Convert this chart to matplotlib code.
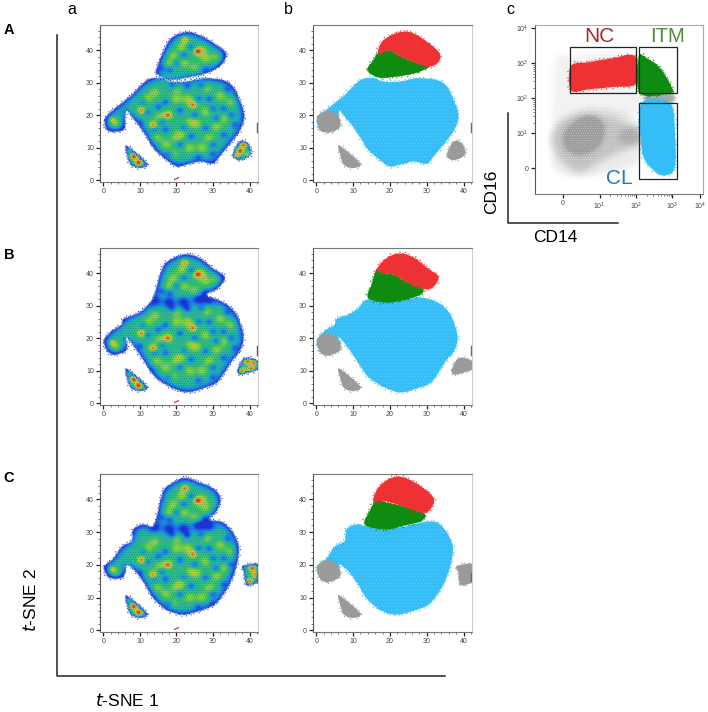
import numpy as np
import matplotlib
matplotlib.use("Agg")
import matplotlib.pyplot as plt
from matplotlib.patches import PathPatch, Rectangle
from matplotlib.path import Path
from matplotlib.lines import Line2D
from matplotlib.colors import LinearSegmentedColormap

plt.rcParams['font.family'] = ['Liberation Sans', 'DejaVu Sans']
plt.rcParams['hatch.linewidth'] = 0.4
plt.rcParams['mathtext.default'] = 'regular'

W, H = 708, 712

# ---------- t-SNE outlines (t-SNE 1, t-SNE 2) ----------
main_A = [(13.2,31.3),(15.9,31.3),(18.2,30.3),(22.7,30.3),(27.3,31.3),(32.7,30.8),(35.5,28.8),(37.3,24.7),
          (38.6,20.1),(37.7,16),(35.5,12.4),(31.8,7.3),(30,5.1),(26.4,5.8),(22.7,4.8),(20,4.3),(17.3,6.3),
          (14.1,9.4),(11.8,13.5),(10,16.5),(7.7,19.6),(6.2,21.6),(5.9,18.6),(5.5,15.5),(1.8,15),(0.5,16.5),
          (0.5,19.1),(2.7,21.6),(5,23.7),(7.3,25.7),(9.1,27.8),(11.4,30.3)]
top_A = [(14.5,33.9),(16.8,40.5),(19.1,44.1),(23.2,45.6),(27.3,44.1),(30.9,41.6),(33.6,39),(32.3,35.5),
         (28.2,32.9),(23.6,31.8),(18.2,30.8),(15,32.4)]
main_B = [(0.2,19.5),(2.7,22.6),(5,24.1),(5.5,25.9),(8.6,27.2),(11.4,29.2),(13.6,32.3),(14.5,35.4),(16.4,42.1),
          (19.1,44.6),(22.7,45.8),(26.4,44.6),(30,41.5),(33.2,38.8),(31.4,35.4),(28.2,33.3),(32.3,31.3),(35.5,28.7),
          (37.3,25.1),(38.4,20),(37.3,15.9),(35,12.8),(31.4,6.7),(27.3,4.6),(22.7,3.4),(18.2,5.1),(14.1,8.2),
          (11.8,11.8),(10,14.9),(7.7,18.5),(5.9,20.5),(6.5,17.9),(5.9,15.9),(2.7,14.9),(0.9,16.4)]
main_C = [(0.2,19.6),(2.7,21.8),(5,25.5),(7.7,27.2),(8.2,30.8),(10.9,32.3),(13.6,31.8),(15,36.4),(16.4,42.6),
          (19.1,45.1),(22.3,46.6),(26.4,45.1),(30.5,43.1),(32.1,40),(31,36.4),(29.1,33.9),(32.7,32.9),(35.5,29.8),
          (37.1,25.2),(36.4,19.6),(34.5,14),(31,8.4),(27.3,6.3),(21.8,4.8),(17.3,6.3),(13.6,9.9),(11.4,14),
          (9.1,17.6),(6.4,20.1),(5.9,17.6),(5,16),(1.8,16),(0.5,17.6)]
sky_B = [(0.2,19.5),(2.7,22.6),(5,24.1),(5.5,25.9),(8.6,27.2),(11.4,29.2),(13.6,31.8),(18,31.5),(23,31.5),(28,32.5),
         (32.3,31.3),(35.5,28.7),(37.3,25.1),(38.4,20),(37.3,15.9),(35,12.8),(31.4,6.7),(27.3,4.6),(22.7,3.4),
         (18.2,5.1),(14.1,8.2),(11.8,11.8),(10,14.9),(7.7,18.5),(5.9,20.5),(6.5,17.9),(5.9,15.9),(2.7,14.9),(0.9,16.4)]
sky_C = [(0.2,19.6),(2.7,21.8),(5,25.5),(7.7,27.2),(8.2,30.8),(10.9,32.3),(13.6,31.8),(18,31.5),(23,31.5),(29.1,33),
         (32.7,32.9),(35.5,29.8),(37.1,25.2),(36.4,19.6),(34.5,14),(31,8.4),(27.3,6.3),(21.8,4.8),(17.3,6.3),(13.6,9.9),
         (11.4,14),(9.1,17.6),(6.4,20.1),(5.9,17.6),(5,16),(1.8,16),(0.5,17.6)]
small_blob = [(6,10.6),(8.5,8.8),(12,5),(10,3.8),(7.5,4.8),(6.6,7.5)]
right_A = [(35.5,7.9),(37.3,11.9),(39.5,11.4),(40.5,8.4),(39.1,6.8),(36.8,6.3)]
right_B = [(36.8,10.3),(38.6,13.8),(41.8,13.3),(43,10.8),(39.1,9.2),(37.3,8.9)]
right_C = [(38.2,19.6),(43,20.1),(43,15.5),(40.9,14),(39.1,14),(38.6,17.6)]
gray_lobe = [(0.3,19.6),(3.2,21.4),(5.9,19.6),(6.4,16.5),(3.2,14.7),(0.9,16)]

red_A = [(16.8,38.9),(18.2,43),(23.2,45.6),(27.3,44.6),(33.2,39.5),(33.2,36.4),(30.5,34.9),(26.4,36.4),(21.4,39),(20,40)]
green_A = [(16.8,39),(20,40),(21.4,39),(26.4,36.4),(30.5,34.9),(26.8,32.9),(21.4,31.8),(16.8,31.6),(13.9,33.9),(15.5,36.9)]
red_B = [(16.4,41),(19.1,44.6),(22.7,46),(26.4,44.8),(30,41.7),(33.2,38.8),(31.6,35.6),(29,35.2),(25,37),(21,39.5),(18.5,40)]
green_B = [(16.4,41),(18.5,40),(21,39.5),(25,37),(29,35.2),(28,33.2),(23,31.5),(18,31),(14,32.5),(15,36.5)]
red_C = [(15.5,39.5),(17.3,44.1),(21.8,46.9),(26.8,45.1),(31.8,40.5),(30.9,36.9),(28.6,35.9),(23.2,38),(18.6,39.5)]
green_C = [(16.4,39.8),(19.1,39),(23.2,38),(29.1,35.9),(28.6,33.4),(23.2,31.8),(18.6,30.8),(13.2,32.3),(14.5,36.4)]

# density landmarks: warm patches, peaks and low-density bands
warm_x = [22.3,25.9,27,19,18,28,31,22,25,21.5,24.5,23,17.7,15.5,13.6,10.5,12,14.5,17,20,21.4,25.5,23.6,27,29,31,33,28.2,32,35,20,28,24,19,14,20,2.5,3.5]
warm_y = [43.3,39.5,40,38.5,36,37.5,38,36,34.5,41,23.7,25,20.1,19.5,17,21.6,25,13,11,13,14.5,17.3,9.9,10,13,16.5,19,28.3,26,24,25,21,18,8,27,28,18,17]
hot_x = [25.7,24.5,17.7,13.6,10.5,2.3,22.3]
hot_y = [39.7,23,20,16.8,21.4,18.8,43.5]
low_x = [18.2,20,22,24,28,16,12,14,10,17,21,24,30,31,33,26,21,17,28,35,15,27,23,30,34,19,13,18,26,30,22,16,33,25,36,29,11]
low_y = [33.9,36,38.5,41,34,34.5,21,15.5,17.5,15.5,11,13.5,22,19,14,25,21.5,24,16,20,22.5,29,29,8,28,29,10,8,7,11,16,18,22,20,17,25,24]
neck_x = [14,18,22,26,29]
neck_y = [31.5,31,31,32,32]
small_hot_x = [8.3, 9.6]
small_hot_y = [7.3, 5.4]
side_hot = {'A': ([36,38.5,40,37.5],[7.5,11,7.6,9]), 'B': ([38,39.5,41.5,40.5],[9.8,13,12.5,10.5]), 'C': ([41.8,40,40.8],[17,14.8,19])}

rows = {
    'A': dict(top=25, bottom=182, blobs=[main_A, top_A], right=right_A, red=red_A, green=green_A, sky=main_A, neck=False),
    'B': dict(top=248, bottom=405, blobs=[main_B], right=right_B, red=red_B, green=green_B, sky=sky_B, neck=True),
    'C': dict(top=474, bottom=632, blobs=[main_C], right=right_C, red=red_C, green=green_C, sky=sky_C, neck=True),
}

# ---------- flow panel outlines (decades of CD14, CD16) ----------
flow_x_ticks = [0, 1, 2, 3, 3.75]
flow_x_labels = ['0', r'$10^{1}$', r'$10^{2}$', r'$10^{3}$', r'$10^{4}$']
flow_y_ticks = [0, 1, 2, 3, 4]
flow_y_labels = ['0', r'$10^{1}$', r'$10^{2}$', r'$10^{3}$', r'$10^{4}$']
haze_high = [(-.27,2.1),(-.2,3.15),(.2,3.2),(2.1,3.2),(2.1,1.6),(1.1,1.5),(.27,1.5),(-.27,1.05)]
haze_low = [(-.27,1.03),(.27,1.51),(1.1,1.51),(2.03,1.14),(2.11,.71),(1.56,.46),(.93,.14),(.47,-.14),(0,.14),(-.27,.6)]
haze_far = [(-.3,1.1),(.3,1.6),(1.2,1.7),(2.1,1.3),(2.15,.3),(1.7,.0),(.9,-.2),(.4,-.25),(-.2,-.1),(-.33,.5)]
dense_gray = [(.19,1.14),(.66,1.46),(1.07,1.23),(.96,.71),(.55,.43),(.19,.51),(.05,.8)]
neck_gray = [(2.3,2.14),(3.0,2.14),(3.0,1.86),(2.3,1.86)]
bridge_gray = [(1.6,1.05),(2.15,1.2),(2.15,.7),(1.6,.75)]
pop_red = [(.22,2.92),(.74,3.03),(1.37,3.14),(1.97,3.2),(2,2.42),(1.37,2.32),(.74,2.26),(.22,2.22)]
pop_green = [(2.08,3.17),(2.3,3.14),(2.66,2.86),(2.99,2.29),(2.93,2.14),(2.11,2.14)]
pop_blue = [(2.16,1.86),(2.93,1.86),(3.07,1),(3.07,.03),(2.85,-.2),(2.58,-.14),(2.25,.23),(2.14,.8)]
gate_names = ['NC', 'ITM', 'CL']
gate_x = [(0.19,2.0),(2.09,3.12),(2.09,3.12)]
gate_y = [(2.14,3.46),(2.14,3.46),(-0.31,1.86)]

RED, GREEN, SKY, GRAY = '#ee3233', '#0f8c10', '#34bdf6', '#9a9a9a'
density_cmap = LinearSegmentedColormap.from_list('flow', ['#1a35d0','#1a7fe6','#20b4b0','#36c46a','#8fd840','#ecc030','#e06028','#c8201c'])

fig = plt.figure(figsize=(W/100, H/100), dpi=100)

def smooth_path(pts):
    """Closed Catmull-Rom outline through the read points."""
    p = np.asarray(pts, float)
    n = len(p)
    verts, codes = [p[0]], [Path.MOVETO]
    for i in range(n):
        p0, p1, p2, p3 = p[(i-1) % n], p[i], p[(i+1) % n], p[(i+2) % n]
        verts += [p1+(p2-p0)/6, p2-(p3-p1)/6, p2]
        codes += [Path.CURVE4]*3
    return Path(np.array(verts), codes)

def blob(ax, pts, color, z, fringe=True):
    path = smooth_path(pts)
    ax.add_patch(PathPatch(path, fc=color, ec='none', zorder=z))
    if fringe:
        e = PathPatch(path, fc='none', ec=color, lw=1.1, ls=(0, (0.6, 1.3)), zorder=z)
        e.set_sketch_params(1.6, 6, 3)
        ax.add_patch(e)
    return path

def px_axes(l, t, r, b):
    return fig.add_axes([l/W, 1-b/H, (r-l)/W, (b-t)/H])

def style(ax, xmajor, ymajor, xminor, yminor):
    ax.set_xticks(xmajor); ax.set_yticks(ymajor)
    ax.set_xticks(xminor, minor=True); ax.set_yticks(yminor, minor=True)
    ax.tick_params(which='major', length=3, width=0.9, labelsize=5, labelcolor='#444444', pad=1.5, color='#222222')
    ax.tick_params(which='minor', length=1.5, width=0.5, color='#444444')
    ax.spines['top'].set_color('#777777'); ax.spines['right'].set_color('#cccccc')
    ax.spines['bottom'].set_color('#777777'); ax.spines['left'].set_color('#555555')
    for s in ax.spines.values():
        s.set_linewidth(0.8)

XLIM, YLIM = (-0.9, 42.3), (-0.5, 47.7)
def tsne_axes(l, t, r, b):
    ax = px_axes(l, t, r, b)
    ax.set_xlim(*XLIM); ax.set_ylim(*YLIM)
    style(ax, [0,10,20,30,40], [0,10,20,30,40], np.arange(0,43,2), np.arange(0,47,2))
    ax.set_yticklabels(['0','10','20','30','40'])
    return ax

def blur(a, sigma_cells):
    r = int(3*sigma_cells)+1
    k = np.exp(-0.5*(np.arange(-r, r+1)/sigma_cells)**2); k /= k.sum()
    a = np.apply_along_axis(lambda v: np.convolve(v, k, mode='same'), 0, a)
    return np.apply_along_axis(lambda v: np.convolve(v, k, mode='same'), 1, a)

def mask_of(polys, X, Y):
    m = np.zeros(X.shape)
    q = np.column_stack([X.ravel(), Y.ravel()])
    for pts in polys:
        poly = smooth_path(pts).to_polygons(closed_only=True)[0]
        m = np.maximum(m, Path(poly).contains_points(q).reshape(X.shape).astype(float))
    return m

def bumps(X, Y, xs, ys, sigma):
    out = np.zeros(X.shape)
    for a, b in zip(xs, ys):
        out += np.exp(-((X-a)**2+(Y-b)**2)/(2*sigma**2))
    return out

gx = np.arange(XLIM[0], XLIM[1]+0.15, 0.15)
gy = np.arange(YLIM[0], YLIM[1]+0.15, 0.15)
X, Y = np.meshgrid(gx, gy)

def density_panel(ax, r, name):
    polys = r['blobs'] + [small_blob, r['right']]
    m = mask_of(polys, X, Y)
    big = mask_of(r['blobs'], X, Y)
    small = mask_of([small_blob, r['right']], X, Y)
    edge = np.clip(blur(big, 9)*2-1, 0, 1)**0.9
    edge_small = np.clip(blur(small, 3.5)*2-1, 0, 1)**0.7
    edge = np.maximum(edge, edge_small)
    sx, sy = side_hot[name]
    v = 0.37
    v = v + 0.20*bumps(X, Y, warm_x, warm_y, 1.1) + 0.30*bumps(X, Y, hot_x, hot_y, 0.6)
    v = v - 0.26*bumps(X, Y, low_x, low_y, 0.8)
    v = v + 0.55*bumps(X, Y, sx, sy, 0.7)
    v = v + 0.6*bumps(X, Y, small_hot_x, small_hot_y, 0.7)
    if r['neck']:
        v = v - 0.40*bumps(X, Y, neck_x, neck_y, 1.3)
    v = np.clip(v, 0, 1)*edge
    rgba = density_cmap(v)
    rgba[..., 3] = blur(m, 1.0)
    ax.imshow(rgba, extent=[gx[0], gx[-1], gy[0], gy[-1]], origin='lower', aspect='auto',
              interpolation='bilinear', zorder=2)
    ax.set_xlim(*XLIM); ax.set_ylim(*YLIM)
    for pts in polys:
        path = smooth_path(pts)
        e = PathPatch(path, fc='none', ec='#1a35d0', lw=1.0, ls=(0, (0.6, 1.4)), zorder=3)
        e.set_sketch_params(1.5, 6, 3)
        ax.add_patch(e)
        g = PathPatch(path, fc='none', ec='#1a35d0', lw=0, hatch='.......', alpha=0.38, zorder=3.1)
        ax.add_patch(g)

for name, r in rows.items():
    ax = tsne_axes(100, r['top'], 258, r['bottom'])
    density_panel(ax, r, name)
    ax.plot([19.5, 20.5], [0.3, 0.8], color='#c0504d', lw=1, zorder=5)
    ax.plot([42, 42], [15, 17.5], color='#c03030', lw=1, zorder=5)

    ax = tsne_axes(313, r['top'], 472, r['bottom'])
    p = blob(ax, r['sky'], SKY, 2)
    ax.add_patch(PathPatch(p, fc='none', ec='white', lw=0, hatch='.....', alpha=0.18, zorder=2.1))
    blob(ax, gray_lobe, GRAY, 3)
    blob(ax, small_blob, GRAY, 3)
    blob(ax, r['right'], GRAY, 3)
    blob(ax, r['green'], GREEN, 4)
    blob(ax, r['red'], RED, 5)
    ax.plot([42, 42], [15, 17.5], color=RED, lw=1, zorder=5)

# panel c
ax = px_axes(535, 25, 703, 194)
FX, FY = (-0.77, 3.84), (-0.74, 4.09)
minor_pos = np.log10([20,30,40,50,60,70,80,90,200,300,400,500,600,700,800,900])
style(ax, flow_x_ticks, flow_y_ticks, minor_pos, minor_pos)
ax.set_xticklabels(flow_x_labels); ax.set_yticklabels(flow_y_labels)
ax.spines['top'].set_color('#aaaaaa')
ax.spines['right'].set_color('#aaaaaa')
hx = np.arange(FX[0], FX[1]+0.02, 0.02)
hy = np.arange(FY[0], FY[1]+0.02, 0.02)
HX, HY = np.meshgrid(hx, hy)
shade = (0.13*blur(mask_of([haze_high], HX, HY), 4)
         + 0.20*blur(mask_of([haze_far], HX, HY), 4)
         + 0.42*blur(mask_of([haze_low], HX, HY), 5)
         + 0.25*blur(mask_of([bridge_gray], HX, HY), 4)
         + 0.85*blur(mask_of([dense_gray], HX, HY), 5)
         + 0.85*blur(mask_of([neck_gray], HX, HY), 2))
rgba = np.zeros(HX.shape+(4,))
rgba[..., :3] = 0.60
rgba[..., 3] = np.clip(shade, 0, 0.98)
ax.imshow(rgba, extent=[hx[0], hx[-1], hy[0], hy[-1]], origin='lower', aspect='auto', interpolation='bilinear', zorder=1)
ax.add_patch(PathPatch(smooth_path(haze_far), fc='none', ec='white', lw=0, hatch='.......', alpha=0.4, zorder=1.2))
ax.add_patch(PathPatch(smooth_path(haze_high), fc='none', ec='white', lw=0, hatch='.....', alpha=0.5, zorder=1.2))
ax.set_xlim(*FX); ax.set_ylim(*FY)
blob(ax, pop_red, RED, 2)
blob(ax, pop_green, GREEN, 2)
blob(ax, pop_blue, SKY, 2)
for n, gxx, gyy in zip(gate_names, gate_x, gate_y):
    ax.add_patch(Rectangle((gxx[0], gyy[0]), gxx[1]-gxx[0], gyy[1]-gyy[0], fc='none', ec='#222222', lw=0.9, zorder=3))

def txt(x, y, s, **kw):
    kw.setdefault('ha', 'center'); kw.setdefault('va', 'center')
    fig.text(x/W, 1-y/H, s, **kw)

def line(xs, ys, **kw):
    fig.add_artist(Line2D([x/W for x in xs], [1-y/H for y in ys], color='#222222', lw=1.1, **kw))

txt(599, 36, 'NC', fontsize=15, color='#a8252a')
txt(668, 36, 'ITM', fontsize=14.5, color='#4f8a3a')
txt(619, 179, 'CL', fontsize=15, color='#1f78c0')

for x, s in [(72, 'a'), (288, 'b'), (510, 'c')]:
    txt(x, 10, s, fontsize=11.5)
for y, s in [(30, 'A'), (255, 'B'), (478, 'C')]:
    txt(9, y, s, fontsize=10.5, fontweight='bold')

line([57, 57, 445], [35, 676, 676])
line([508, 508, 618], [113, 223, 223])
txt(127, 700, r'$\mathit{t}$-SNE 1', fontsize=12.5)
txt(30, 600, r'$\mathit{t}$-SNE 2', fontsize=12.5, rotation=90)
txt(492, 192, 'CD16', fontsize=12.5, rotation=90)
txt(555, 238, 'CD14', fontsize=12.5)

fig.savefig('out.png', dpi=100)
